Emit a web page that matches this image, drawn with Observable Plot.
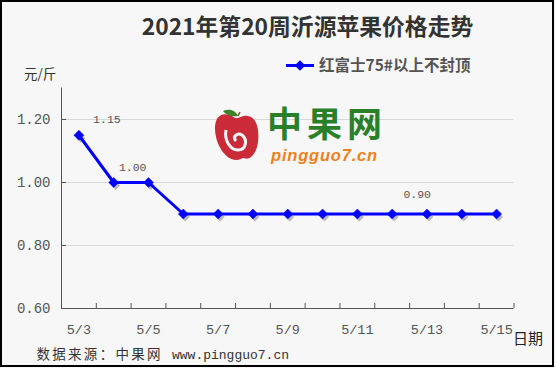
<!DOCTYPE html>
<html>
<head>
<meta charset="utf-8">
<script src="https://cdn.jsdelivr.net/npm/d3@7"></script>
<script src="https://cdn.jsdelivr.net/npm/@observablehq/plot@0.6"></script>
<style>
  html, body { margin: 0; padding: 0; background: #ffffff; }
  #chart { width: 556px; height: 368px; }
  svg { display: block; }
</style>
</head>
<body>
<div id="chart"></div>
<script>
// ---- data ----
const dates = ["5/3","5/4","5/5","5/6","5/7","5/8","5/9","5/10","5/11","5/12","5/13","5/14","5/15"];
const prices = [1.15, 1.00, 1.00, 0.90, 0.90, 0.90, 0.90, 0.90, 0.90, 0.90, 0.90, 0.90, 0.90];
const seriesName = "红富士75#以上不封顶";
const title = "2021年第20周沂源苹果价格走势";
const yTicks = [0.6, 0.8, 1.0, 1.2];
const gridTicks = [0.8, 1.0, 1.2];
const labelIdx = [0, 1, 9];           // points that carry a value label
const labelDx = [28, 19, 25];
const labelDy = [-16, -15, -20];

const rows = dates.map((d, i) => ({i, date: d, price: prices[i]}));
const bounds = d3.range(dates.length).map(i => i + 0.5);
const evenIdx = d3.range(0, dates.length, 2);

const BLUE = "#0000ff";
const mono = "'Liberation Mono', 'DejaVu Sans Mono', monospace";
const cjk = "'Noto Sans CJK SC', 'Noto Sans', sans-serif";

const labelMarks = labelIdx.map((k, j) =>
  Plot.text([rows[k]], {x: "i", y: "price", text: d => d.price.toFixed(2),
    dx: labelDx[j], dy: labelDy[j], fontSize: 11.5, fill: "#555", fontFamily: mono}));

const plot = Plot.plot({
  width: 556,
  height: 368,
  marginLeft: 61,
  marginRight: 42.5,
  marginTop: 87.5,
  marginBottom: 60,
  style: {background: "transparent", fontFamily: mono},
  x: {domain: [-0.5, dates.length - 0.5], label: null},
  y: {domain: [0.6, 1.3], label: null},
  marks: [
    Plot.frame({fill: "#f7f7f7", stroke: null, inset: -200, ariaLabel: "bg"}),
    Plot.ruleY(gridTicks, {stroke: "#d8d8d8", strokeWidth: 1}),
    Plot.axisX({ticks: evenIdx, tickFormat: i => dates[i], tickSize: 0, tickPadding: 16,
      fontSize: 13.5, fill: "#555", fontFamily: mono, label: null}),
    Plot.axisX({ticks: bounds, tickFormat: () => "", tickSize: -5, stroke: "#555", label: null}),
    Plot.axisY({ticks: yTicks, tickFormat: d3.format(".2f"), tickSize: -5, tickPadding: 16,
      fontSize: 14, fill: "#555", stroke: "#555", fontFamily: mono, label: null}),
    Plot.ruleX([-0.5], {y1: 0.6, y2: 1.3, stroke: "#555", strokeWidth: 1}),
    Plot.ruleY([0.6], {stroke: "#555", strokeWidth: 1}),
    // shadow
    Plot.line(rows, {x: "i", y: "price", stroke: "#000", strokeOpacity: 0.3, strokeWidth: 3, dx: 2, dy: 3, ariaLabel: "shadow"}),
    Plot.dot(rows, {x: "i", y: "price", symbol: "diamond2", r: 4, fill: "#000", fillOpacity: 0.25, dx: 2, dy: 3, ariaLabel: "shadow"}),
    Plot.line(rows, {x: "i", y: "price", stroke: BLUE, strokeWidth: 3}),
    Plot.dot(rows, {x: "i", y: "price", symbol: "diamond2", r: 4.5, fill: BLUE, stroke: BLUE, strokeWidth: 0.5}),
    ...labelMarks
  ]
});

document.getElementById("chart").appendChild(plot);

const svg = d3.select(plot);

// blur for the shadow
const defs = svg.insert("defs", ":first-child");
defs.append("filter").attr("id", "blur").attr("x", "-10%").attr("y", "-10%").attr("width", "120%").attr("height", "120%")
  .append("feGaussianBlur").attr("stdDeviation", 1.1);
svg.selectAll('g[aria-label="shadow"]').attr("filter", "url(#blur)");

// frame border
const ann = svg.append("g").attr("text-anchor", "start");
ann.append("rect")
  .attr("x", 1).attr("y", 1).attr("width", 552).attr("height", 365)
  .attr("fill", "none").attr("stroke", "#000").attr("stroke-width", 2);

ann.append("text").attr("x", 307.5).attr("y", 34.5).attr("text-anchor", "middle")
  .attr("font-family", cjk).attr("font-weight", "bold").attr("font-size", 22.8).attr("fill", "#333")
  .text(title);
ann.append("text").attr("x", 24).attr("y", 79)
  .attr("font-family", cjk).attr("font-size", 13.5).attr("fill", "#333").text("元/斤");
// legend
ann.append("line").attr("x1", 286).attr("x2", 314).attr("y1", 65.5).attr("y2", 65.5)
  .attr("stroke", BLUE).attr("stroke-width", 3);
ann.append("path").attr("d", d3.symbol(d3.symbolDiamond2, 70)()).attr("transform", "translate(300,65.5)").attr("fill", BLUE);
ann.append("text").attr("x", 319).attr("y", 71)
  .attr("font-family", cjk).attr("font-weight", "bold").attr("font-size", 15.5).attr("fill", "#555").text(seriesName);
ann.append("text").attr("x", 513).attr("y", 344)
  .attr("font-family", cjk).attr("font-size", 15).attr("fill", "#222").text("日期");
const src = ann.append("text").attr("y", 359)
  .attr("font-family", cjk).attr("font-size", 13.5).attr("fill", "#333");
src.append("tspan").attr("x", 36.5).attr("textLength", 124).attr("lengthAdjust", "spacing").text("数据来源：中果网");
src.append("tspan").attr("x", 172).attr("font-family", mono).attr("font-size", 13).text("www.pingguo7.cn");

// watermark logo
const logo = ann.append("g").attr("opacity", 0.95);
logo.append("path")
  .attr("d", "M235,118 C225,111 215,114 215,128 C215,145 226,160 236,160 C240,160 242,158 244,158 C248,160 252,158 256,150 C260,140 260,118 248,116 C242,115 239,119 235,118 Z")
  .attr("fill", "#c9202e");
logo.append("path")
  .attr("d", "M226,130 C224,140 230,150 238,150 C246,150 248,140 242,135 C237,132 232,137 236,141")
  .attr("fill", "none").attr("stroke", "#f7f7f7").attr("stroke-width", 3);
logo.append("path").attr("d", "M223,111 C230,108 236,111 238,116 C231,117 226,115 223,111 Z").attr("fill", "#2f7d1f");
logo.append("line").attr("x1", 238).attr("y1", 116).attr("x2", 240).attr("y2", 112).attr("stroke", "#7a4a1a").attr("stroke-width", 1.5);
logo.append("text").attr("x", 267).attr("y", 137)
  .attr("font-family", cjk).attr("font-weight", "bold").attr("font-size", 35).attr("fill", "#1f7a1f")
  .attr("letter-spacing", 5).text("中果网");
logo.append("text").attr("x", 271).attr("y", 161)
  .attr("font-family", "'Liberation Sans', sans-serif").attr("font-weight", "bold").attr("font-style", "italic")
  .attr("font-size", 16.5).attr("fill", "#f07a10").attr("letter-spacing", 0.8).text("pingguo7.cn");
</script>
</body>
</html>
